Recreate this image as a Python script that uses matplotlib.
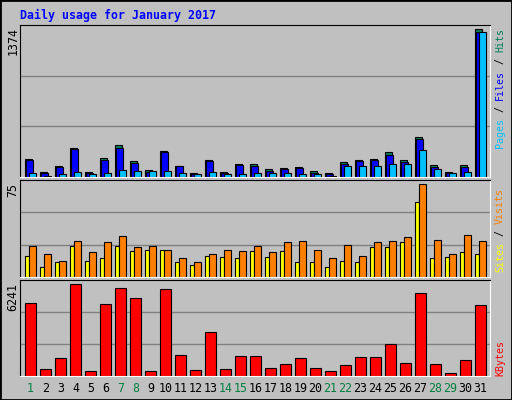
import matplotlib
matplotlib.use("Agg")
import matplotlib.pyplot as plt
from matplotlib.patches import Rectangle

days = list(range(1, 32))
hits = [166,44,100,272,44,176,298,147,63,241,100,34,157,44,119,119,72,81,91,53,34,138,157,166,232,157,373,110,44,110,1374]
files = [157,34,91,260,34,157,270,129,44,232,100,25,147,34,110,100,53,72,81,34,25,119,147,157,204,138,354,91,34,91,1350]
pages = [34,12,25,44,25,34,63,53,53,53,34,25,44,25,25,34,34,34,25,25,12,100,100,100,119,119,251,72,34,44,1350]
visits = [25,19,13,29,20,28,33,24,25,22,15,12,19,22,21,25,20,28,29,22,15,26,17,28,29,32,75,30,19,34,29]
sites = [17,8,12,25,13,15,25,21,22,22,12,10,17,16,15,21,16,21,12,12,8,13,12,24,24,28,61,15,16,20,19]
kbytes = [4948,454,1248,6241,318,4880,5969,5288,318,5901,1453,386,2973,454,1384,1384,522,840,1248,522,318,772,1316,1316,2202,908,5629,840,182,1112,4812]
weekend = {1,7,8,14,15,21,22,28,29}

W, H = 512, 400
BG = "#c0c0c0"
fig = plt.figure(figsize=(W/100, H/100), dpi=100, facecolor=BG)
mono = "DejaVu Sans Mono"

def ax_px(x0, y0, x1, y1):
    a = fig.add_axes([x0/W, 1-y1/H, (x1-x0)/W, (y1-y0)/H])
    a.set_facecolor(BG)
    a.set_xlim(0.1667, 31.5)
    a.set_xticks([]); a.set_yticks([])
    for s in ("left", "top"):
        a.spines[s].set_color("black")
    for s in ("right", "bottom"):
        a.spines[s].set_color("white")
    return a

fig.patches.append(Rectangle((0, 0), 1, 1, transform=fig.transFigure, fill=False, edgecolor="black", lw=2))

fig.text(20/W, 1-15/H, "Daily usage for January 2017", family=mono, weight="bold", size=8.4, color="#0000ff", va="center")

left, right = 20, 490
d = [x - 0.5 for x in days]
ekw = dict(edgecolor="black", linewidth=0.8, align="edge")

a1 = ax_px(left, 25, right, 177)
a1.set_ylim(0, 1374*152/148)
for f in (1/3, 2/3):
    a1.axhline(a1.get_ylim()[1]*f, color="#808080", lw=1, zorder=0)
a1.bar(d, hits, width=0.5, color="#00805c", **ekw)
a1.bar([x + 0.1 for x in d], files, width=0.45, color="#0000ff", **ekw)
a1.bar([x + 0.28 for x in d], pages, width=0.45, color="#00c0ff", **ekw)

a2 = ax_px(left, 180, right, 277)
a2.set_ylim(0, 75*96.7/92.4)
for f in (1/3, 2/3):
    a2.axhline(a2.get_ylim()[1]*f, color="#808080", lw=1, zorder=0)
a2.bar(d, sites, width=0.3, color="#ffff00", **ekw)
a2.bar([x + 0.3 for x in d], visits, width=0.45, color="#ff8000", **ekw)

a3 = ax_px(left, 280, right, 376)
a3.set_ylim(0, 6241*95.7/91.7)
for f in (1/3, 2/3):
    a3.axhline(a3.get_ylim()[1]*f, color="#808080", lw=1, zorder=0)
a3.bar(d, kbytes, width=0.75, color="#ff0000", **ekw)

for day in days:
    x = left + (day - 0.5 + 0.375 - 0.1667) * 15
    fig.text(x/W, 1-388/H, str(day), family=mono, size=8.4, ha="center", va="center",
             color="#008040" if day in weekend else "black")

for txt, ytop in (("1374", 27), ("75", 183), ("6241", 283)):
    fig.text(13/W, 1-ytop/H, txt, family=mono, size=8.4, rotation=90, rotation_mode="anchor",
             ha="right", va="center")

def vlabel(parts, ybottom, cw=6.0):
    y = ybottom
    for t, c in parts:
        fig.text(500/W, 1-y/H, t, family=mono, size=7.2, rotation=90, rotation_mode="anchor",
                 ha="left", va="center", color=c)
        y -= cw * len(t)

vlabel([("Pages", "#00c0ff"), (" / ", "black"), ("Files", "#0000ff"), (" / ", "black"), ("Hits", "#00805c")], 148)
vlabel([("Sites", "#ffff00"), (" / ", "black"), ("Visits", "#ff8000")], 272)
vlabel([("KBytes", "#ff0000")], 376)

fig.savefig("out.png", dpi=100, facecolor=BG)
